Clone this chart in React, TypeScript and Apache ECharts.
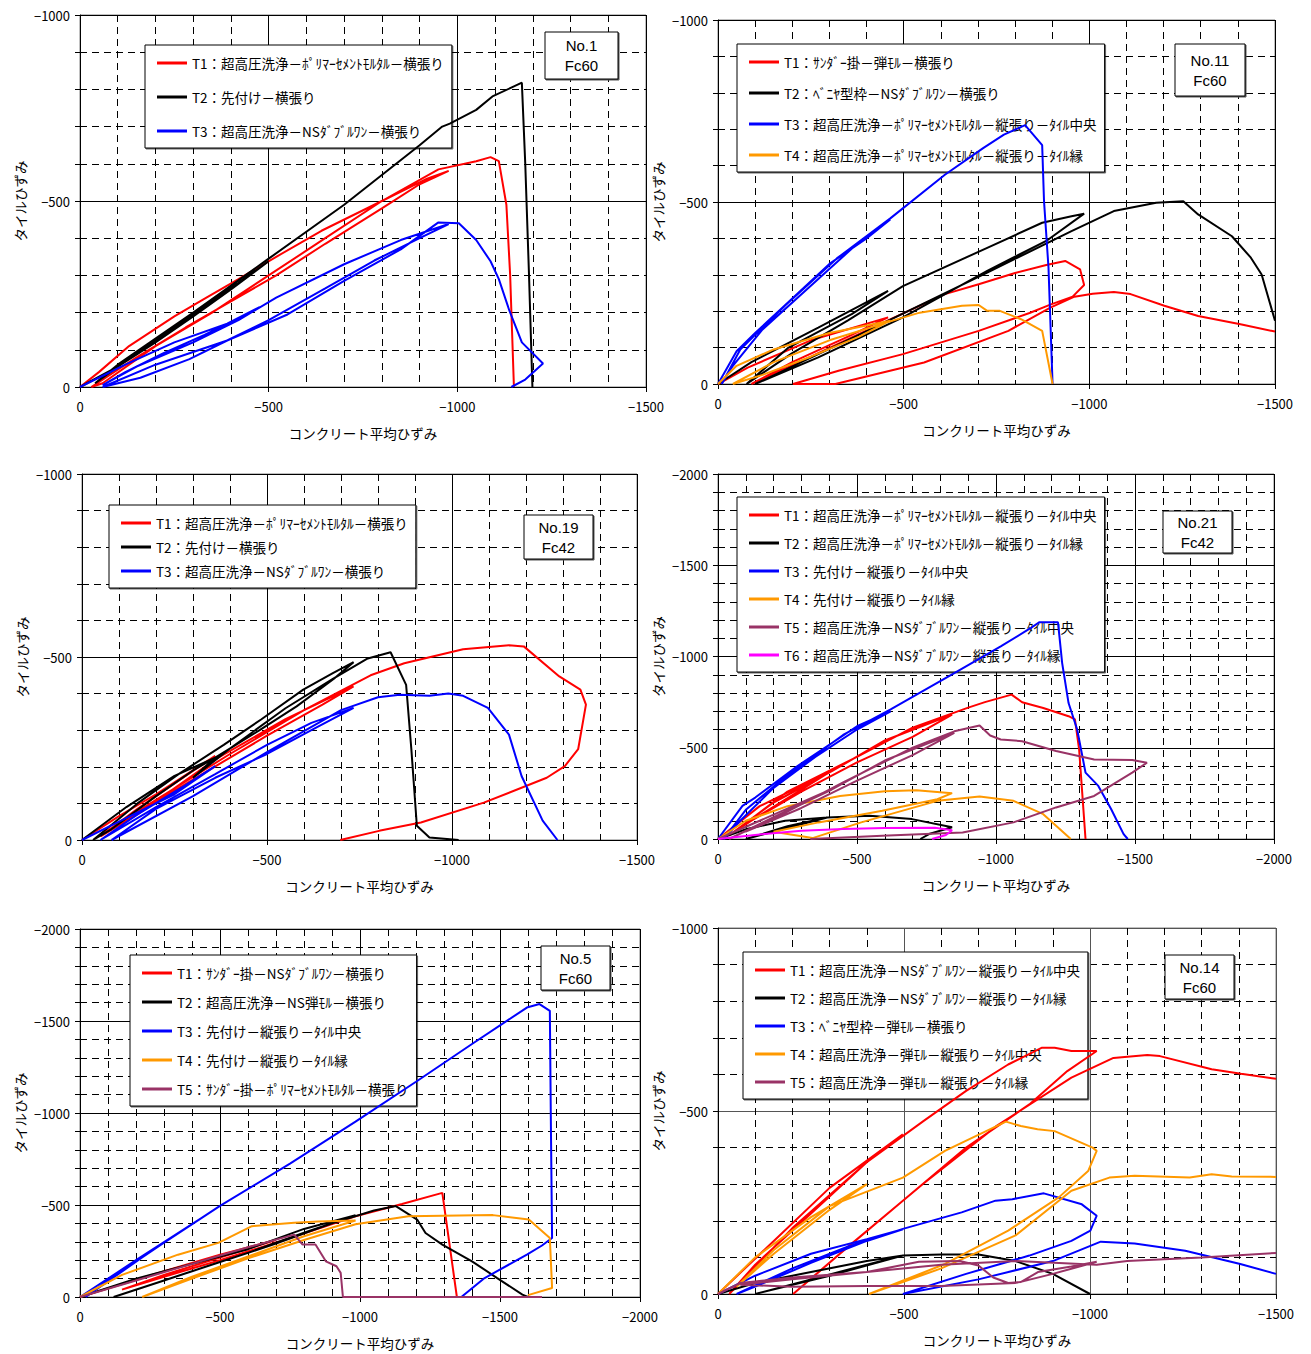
import React, { useEffect, useRef } from "react";
import * as echarts from "echarts";

type Pt = [number, number];

// ---------- Tick labels / axis names ----------
const X_NAME = "コンクリート平均ひずみ";
const Y_NAME = "タイルひずみ";

// ---------- No.1 Fc60 ----------
const P1_NAMES = [
  "T1：超高圧洗浄－ﾎﾟﾘﾏｰｾﾒﾝﾄﾓﾙﾀﾙ－横張り",
  "T2：先付け－横張り",
  "T3：超高圧洗浄－NSﾀﾞﾌﾞﾙﾜﾝ－横張り",
];
const P1_T1: Pt[] = [[0,0],[-50,-40],[-130,-110],[-250,-190],[-335,-240],[-420,-290],[-520,-350],[-640,-420],[-800,-500],[-920,-560],[-977,-581],[-900,-545],[-800,-480],[-650,-385],[-520,-300],[-400,-230],[-280,-160],[-150,-80],[-60,-20],[-30,0],[-60,-10],[-200,-110],[-350,-200],[-500,-300],[-650,-400],[-800,-500],[-950,-585],[-1050,-607],[-1088,-618],[-1110,-607],[-1130,-490],[-1140,-300],[-1145,-150],[-1150,0]];
const P1_T2: Pt[] = [[0,0],[-100,-55],[-200,-120],[-300,-190],[-400,-262],[-500,-338],[-420,-280],[-300,-195],[-150,-90],[-40,-10],[-100,-60],[-300,-200],[-500,-345],[-700,-490],[-900,-650],[-960,-700],[-980,-708],[-1050,-745],[-1093,-781],[-1150,-808],[-1171,-818],[-1180,-600],[-1190,-300],[-1199,0]];
const P1_T3: Pt[] = [[0,0],[-120,-60],[-250,-120],[-390,-170],[-476,-215],[-420,-185],[-330,-140],[-220,-90],[-120,-40],[-60,-5],[-150,-55],[-300,-120],[-420,-180],[-520,-240],[-700,-330],[-850,-395],[-977,-438],[-900,-400],[-780,-340],[-650,-265],[-500,-180],[-390,-125],[-290,-75],[-160,-25],[-60,0],[-200,-60],[-390,-125],[-550,-195],[-700,-285],[-850,-370],[-949,-442],[-1004,-440],[-1050,-395],[-1088,-338],[-1110,-290],[-1138,-205],[-1171,-120],[-1227,-63],[-1180,-20],[-1143,0]];

// ---------- No.11 Fc60 ----------
const P2_NAMES = [
  "T1：ｻﾝﾀﾞｰ掛－弾ﾓﾙ－横張り",
  "T2：ﾍﾞﾆﾔ型枠－NSﾀﾞﾌﾞﾙﾜﾝ－横張り",
  "T3：超高圧洗浄－ﾎﾟﾘﾏｰｾﾒﾝﾄﾓﾙﾀﾙ－縦張り－ﾀｲﾙ中央",
  "T4：超高圧洗浄－ﾎﾟﾘﾏｰｾﾒﾝﾄﾓﾙﾀﾙ－縦張り－ﾀｲﾙ縁",
];
const P2_T1: Pt[] = [[0,0],[-80,-45],[-250,-120],[-458,-183],[-350,-130],[-200,-60],[-90,0],[-250,-75],[-458,-175],[-611,-247],[-702,-274],[-800,-305],[-884,-327],[-935,-338],[-975,-315],[-986,-272],[-955,-240],[-895,-218],[-839,-195],[-702,-146],[-498,-82],[-327,-37],[-202,0],[-316,0],[-555,-59],[-782,-146],[-895,-210],[-960,-240],[-1009,-248],[-1066,-253],[-1111,-247],[-1202,-215],[-1293,-187],[-1407,-164],[-1500,-144]];
const P2_T2: Pt[] = [[0,0],[-90,-60],[-270,-155],[-458,-256],[-360,-192],[-190,-100],[-77,0],[-200,-85],[-350,-175],[-498,-269],[-725,-374],[-873,-443],[-952,-461],[-986,-468],[-884,-393],[-725,-311],[-498,-183],[-270,-73],[-100,0],[-384,-137],[-725,-306],[-952,-420],[-1066,-475],[-1180,-498],[-1253,-502],[-1293,-466],[-1384,-406],[-1435,-347],[-1464,-301],[-1500,-174]];
const P2_T3: Pt[] = [[0,0],[-50,-90],[-100,-140],[-200,-235],[-300,-330],[-400,-400],[-464,-452],[-380,-390],[-250,-270],[-120,-150],[-40,-50],[-10,0],[-60,-95],[-180,-215],[-320,-345],[-464,-455],[-611,-575],[-714,-648],[-770,-685],[-827,-711],[-873,-656],[-878,-502],[-890,-320],[-901,0]];
const P2_T4: Pt[] = [[0,0],[-50,-50],[-150,-95],[-300,-140],[-464,-174],[-380,-130],[-250,-75],[-120,-25],[-40,0],[-150,-60],[-300,-120],[-464,-172],[-543,-196],[-657,-215],[-702,-217],[-725,-201],[-759,-201],[-816,-178],[-873,-146],[-901,0]];

// ---------- No.19 Fc42 ----------
const P3_NAMES = P1_NAMES;
const P3_T1: Pt[] = [[0,0],[-100,-65],[-200,-125],[-360,-230],[-280,-175],[-150,-85],[-50,-10],[-150,-70],[-360,-220],[-550,-330],[-734,-420],[-650,-370],[-500,-285],[-350,-195],[-200,-105],[-60,-20],[-200,-110],[-400,-235],[-600,-355],[-780,-450],[-871,-483],[-1030,-521],[-1154,-532],[-1194,-529],[-1290,-447],[-1347,-411],[-1362,-370],[-1341,-248],[-1305,-202],[-1256,-170],[-1086,-102],[-916,-48],[-803,-25],[-698,0]];
const P3_T2: Pt[] = [[0,0],[-120,-90],[-250,-175],[-360,-225],[-300,-190],[-200,-120],[-80,-30],[-30,0],[-150,-100],[-258,-178],[-383,-260],[-485,-330],[-598,-411],[-678,-456],[-734,-486],[-680,-440],[-580,-365],[-480,-300],[-360,-225],[-300,-170],[-400,-250],[-550,-360],[-678,-440],[-770,-495],[-834,-513],[-876,-424],[-890,-250],[-905,-39],[-939,-7],[-1018,0]];
const P3_T3: Pt[] = [[0,0],[-100,-50],[-250,-125],[-360,-202],[-280,-150],[-150,-70],[-50,0],[-200,-90],[-360,-180],[-500,-260],[-620,-320],[-734,-361],[-620,-300],[-500,-235],[-360,-170],[-200,-85],[-80,0],[-300,-120],[-500,-240],[-700,-355],[-800,-390],[-859,-397],[-939,-394],[-990,-400],[-1030,-394],[-1097,-361],[-1154,-288],[-1188,-175],[-1245,-53],[-1285,0]];

// ---------- No.21 Fc42 ----------
const P4_NAMES = [
  "T1：超高圧洗浄－ﾎﾟﾘﾏｰｾﾒﾝﾄﾓﾙﾀﾙ－縦張り－ﾀｲﾙ中央",
  "T2：超高圧洗浄－ﾎﾟﾘﾏｰｾﾒﾝﾄﾓﾙﾀﾙ－縦張り－ﾀｲﾙ縁",
  "T3：先付け－縦張り－ﾀｲﾙ中央",
  "T4：先付け－縦張り－ﾀｲﾙ縁",
  "T5：超高圧洗浄－NSﾀﾞﾌﾞﾙﾜﾝ－縦張り－ﾀｲﾙ中央",
  "T6：超高圧洗浄－NSﾀﾞﾌﾞﾙﾜﾝ－縦張り－ﾀｲﾙ縁",
];
const P4_T1: Pt[] = [[0,0],[-150,-180],[-408,-373],[-300,-270],[-150,-130],[-40,-20],[-200,-200],[-408,-370],[-600,-540],[-842,-682],[-700,-560],[-500,-420],[-300,-260],[-120,-100],[-50,-30],[-250,-260],[-500,-450],[-700,-610],[-900,-720],[-960,-750],[-1056,-791],[-1094,-749],[-1170,-718],[-1261,-673],[-1284,-655],[-1299,-491],[-1322,0]];
const P4_T2: Pt[] = [[0,0],[-104,-55],[-241,-100],[-393,-118],[-300,-80],[-150,-20],[-100,0],[-250,-70],[-393,-118],[-545,-127],[-698,-109],[-842,-64],[-759,-27],[-728,0]];
const P4_T3: Pt[] = [[0,0],[-88,-182],[-134,-227],[-286,-400],[-500,-618],[-621,-700],[-500,-600],[-350,-450],[-200,-280],[-80,-100],[-20,0],[-100,-160],[-250,-350],[-450,-570],[-621,-710],[-850,-909],[-1017,-1055],[-1124,-1155],[-1155,-1187],[-1223,-1187],[-1238,-964],[-1261,-745],[-1292,-600],[-1322,-364],[-1368,-291],[-1414,-164],[-1459,-27],[-1474,0]];
const P4_T4: Pt[] = [[0,0],[-100,-100],[-250,-180],[-439,-236],[-600,-262],[-713,-267],[-842,-251],[-789,-218],[-591,-155],[-362,-91],[-200,-40],[-340,-5],[-515,-91],[-789,-209],[-941,-233],[-1063,-209],[-1170,-136],[-1269,0]];
const P4_T5: Pt[] = [[0,0],[-150,-100],[-408,-273],[-300,-190],[-150,-80],[-40,0],[-200,-120],[-408,-270],[-600,-430],[-850,-582],[-700,-460],[-500,-320],[-300,-170],[-100,-40],[-200,-110],[-450,-310],[-700,-500],[-850,-590],[-941,-622],[-979,-567],[-1017,-545],[-1094,-536],[-1216,-482],[-1353,-436],[-1490,-433],[-1543,-418],[-1490,-364],[-1353,-236],[-1216,-173],[-1063,-91],[-880,-36],[-591,-18],[-332,0]];
const P4_T6: Pt[] = [[0,0],[-150,-25],[-300,-45],[-450,-55],[-600,-60],[-780,-62],[-842,-48],[-820,-22],[-770,0]];

// ---------- No.5 Fc60 ----------
const P5_NAMES = [
  "T1：ｻﾝﾀﾞｰ掛－NSﾀﾞﾌﾞﾙﾜﾝ－横張り",
  "T2：超高圧洗浄－NS弾ﾓﾙ－横張り",
  "T3：先付け－縦張り－ﾀｲﾙ中央",
  "T4：先付け－縦張り－ﾀｲﾙ縁",
  "T5：ｻﾝﾀﾞｰ掛－ﾎﾟﾘﾏｰｾﾒﾝﾄﾓﾙﾀﾙ－横張り",
];
const P5_T1: Pt[] = [[0,0],[-300,-140],[-500,-230],[-700,-310],[-500,-215],[-300,-120],[-150,-40],[-300,-110],[-500,-200],[-750,-320],[-984,-439],[-1150,-505],[-1294,-566],[-1346,0]];
const P5_T2: Pt[] = [[0,0],[-200,-100],[-400,-180],[-600,-260],[-800,-370],[-984,-445],[-800,-350],[-600,-240],[-400,-140],[-200,-40],[-120,0],[-300,-90],[-500,-190],[-700,-290],[-900,-400],[-1050,-470],[-1128,-494],[-1204,-421],[-1234,-348],[-1294,-285],[-1400,-194],[-1490,-103],[-1580,-13],[-1600,0]];
const P5_T3: Pt[] = [[0,0],[-200,-200],[-471,-466],[-300,-295],[-100,-90],[-20,0],[-250,-245],[-500,-495],[-750,-725],[-984,-953],[-1200,-1170],[-1400,-1375],[-1596,-1573],[-1641,-1592],[-1678,-1555],[-1682,-900],[-1686,-321],[-1650,-280],[-1596,-230],[-1445,-103],[-1362,0]];
const P5_T4: Pt[] = [[0,0],[-150,-120],[-350,-230],[-494,-294],[-614,-385],[-765,-403],[-850,-410],[-984,-416],[-800,-330],[-600,-220],[-400,-110],[-222,0],[-400,-100],[-600,-210],[-800,-310],[-984,-395],[-1173,-439],[-1475,-445],[-1603,-421],[-1678,-321],[-1686,-49],[-1600,-10]];
const P5_T5: Pt[] = [[0,0],[-200,-90],[-400,-180],[-600,-270],[-765,-339],[-795,-285],[-841,-285],[-878,-194],[-916,-167],[-931,-131],[-939,0],[-1650,0]];

// ---------- No.14 Fc60 ----------
const P6_NAMES = [
  "T1：超高圧洗浄－NSﾀﾞﾌﾞﾙﾜﾝ－縦張り－ﾀｲﾙ中央",
  "T2：超高圧洗浄－NSﾀﾞﾌﾞﾙﾜﾝ－縦張り－ﾀｲﾙ縁",
  "T3：ﾍﾞﾆﾔ型枠－弾ﾓﾙ－横張り",
  "T4：超高圧洗浄－弾ﾓﾙ－縦張り－ﾀｲﾙ中央",
  "T5：超高圧洗浄－弾ﾓﾙ－縦張り－ﾀｲﾙ縁",
];
const P6_T1: Pt[] = [[0,0],[-150,-145],[-300,-290],[-497,-436],[-400,-360],[-250,-220],[-100,-80],[-30,0],[-200,-180],[-400,-360],[-553,-473],[-667,-555],[-780,-627],[-871,-673],[-905,-673],[-950,-664],[-1018,-664],[-939,-609],[-837,-518],[-667,-400],[-497,-255],[-327,-109],[-202,0],[-350,-130],[-550,-300],[-750,-460],[-950,-591],[-1063,-645],[-1154,-653],[-1188,-650],[-1327,-614],[-1406,-602],[-1500,-588]];
const P6_T2: Pt[] = [[0,0],[-100,-30],[-250,-60],[-400,-90],[-497,-105],[-400,-80],[-250,-40],[-100,0],[-300,-50],[-497,-105],[-600,-108],[-700,-108],[-800,-90],[-900,-55],[-1000,0]];
const P6_T3: Pt[] = [[0,0],[-100,-50],[-250,-110],[-400,-150],[-497,-177],[-400,-145],[-250,-85],[-100,-20],[-50,0],[-200,-70],[-350,-130],[-497,-178],[-655,-223],[-746,-255],[-791,-259],[-876,-275],[-978,-245],[-1018,-214],[-1001,-173],[-950,-145],[-837,-105],[-667,-55],[-497,0],[-700,-40],[-900,-90],[-1029,-143],[-1120,-138],[-1256,-118],[-1404,-82],[-1500,-55]];
const P6_T4: Pt[] = [[0,0],[-100,-100],[-250,-210],[-400,-300],[-300,-230],[-150,-110],[-50,-20],[-150,-120],[-300,-240],[-497,-318],[-610,-391],[-774,-471],[-814,-459],[-859,-450],[-905,-445],[-1007,-400],[-1018,-391],[-995,-336],[-916,-264],[-780,-173],[-610,-82],[-406,0],[-600,-70],[-800,-160],[-950,-282],[-1052,-318],[-1120,-323],[-1268,-318],[-1327,-327],[-1381,-321],[-1500,-320]];
const P6_T5: Pt[] = [[0,0],[-60,-30],[-200,-45],[-400,-60],[-540,-88],[-650,-90],[-700,-78],[-740,-45],[-780,-30],[-815,-33],[-860,-60],[-950,-75],[-1018,-88],[-900,-55],[-800,-30],[-600,-22],[-400,-22],[-200,-20],[-60,-25],[-200,-40],[-400,-60],[-600,-80],[-800,-90],[-1018,-80],[-1100,-90],[-1200,-95],[-1300,-100],[-1500,-112]];

const RED = "#ff0000";
const BLACK = "#000000";
const BLUE = "#0000ff";
const ORANGE = "#ff9900";
const PURPLE = "#993366";
const MAGENTA = "#ff00ff";

const FONT = "'Noto Sans CJK JP', 'Noto Sans', sans-serif";
const BADGE_FONT = "'Liberation Sans', Arial, sans-serif";

interface Panel {
  grid: { left: number; top: number; width: number; height: number };
  xMax: number;
  yMax: number;
  names: string[];
  colors: string[];
  data: Pt[][];
  legend: { left: number; top: number; gap: number };
  badge: { x: number; y: number; w: number; h: number; lines: string[] };
  majorColor: string;
}

const PANELS: Panel[] = [
  {
    grid: { left: 80, top: 15, width: 566, height: 372 },
    xMax: 1500, yMax: 1000,
    names: P1_NAMES, colors: [RED, BLACK, BLUE], data: [P1_T1, P1_T2, P1_T3],
    legend: { left: 145, top: 45, gap: 18 },
    badge: { x: 545, y: 32, w: 73, h: 47, lines: ["No.1", "Fc60"] },
    majorColor: "#000",
  },
  {
    grid: { left: 718, top: 20, width: 557, height: 364 },
    xMax: 1500, yMax: 1000,
    names: P2_NAMES, colors: [RED, BLACK, BLUE, ORANGE], data: [P2_T1, P2_T2, P2_T3, P2_T4],
    legend: { left: 737, top: 44, gap: 15 },
    badge: { x: 1175, y: 44, w: 70, h: 52, lines: ["No.11", "Fc60"] },
    majorColor: "#000",
  },
  {
    grid: { left: 82, top: 474, width: 555, height: 366 },
    xMax: 1500, yMax: 1000,
    names: P3_NAMES, colors: [RED, BLACK, BLUE], data: [P3_T1, P3_T2, P3_T3],
    legend: { left: 109, top: 505, gap: 8 },
    badge: { x: 524, y: 515, w: 69, h: 44, lines: ["No.19", "Fc42"] },
    majorColor: "#000",
  },
  {
    grid: { left: 718, top: 474, width: 556, height: 365 },
    xMax: 2000, yMax: 2000,
    names: P4_NAMES, colors: [RED, BLACK, BLUE, ORANGE, PURPLE, MAGENTA],
    data: [P4_T1, P4_T2, P4_T3, P4_T4, P4_T5, P4_T6],
    legend: { left: 737, top: 497, gap: 12 },
    badge: { x: 1163, y: 511, w: 69, h: 42, lines: ["No.21", "Fc42"] },
    majorColor: "#000",
  },
  {
    grid: { left: 80, top: 929, width: 560, height: 368 },
    xMax: 2000, yMax: 2000,
    names: P5_NAMES, colors: [RED, BLACK, BLUE, ORANGE, PURPLE],
    data: [P5_T1, P5_T2, P5_T3, P5_T4, P5_T5],
    legend: { left: 130, top: 955, gap: 13 },
    badge: { x: 541, y: 946, w: 69, h: 44, lines: ["No.5", "Fc60"] },
    majorColor: "#000",
  },
  {
    grid: { left: 718, top: 928, width: 558, height: 366 },
    xMax: 1500, yMax: 1000,
    names: P6_NAMES, colors: [RED, BLACK, BLUE, ORANGE, PURPLE],
    data: [P6_T1, P6_T2, P6_T3, P6_T4, P6_T5],
    legend: { left: 743, top: 952, gap: 12 },
    badge: { x: 1165, y: 955, w: 69, h: 44, lines: ["No.14", "Fc60"] },
    majorColor: "#555",
  },
];

const fmt = (v: number) => (v < 0 ? "\u2212" + String(-v) : String(v));

function buildOption() {
  const grid: any[] = [];
  const xAxis: any[] = [];
  const yAxis: any[] = [];
  const series: any[] = [];
  const legend: any[] = [];
  const graphic: any[] = [];

  PANELS.forEach((p, i) => {
    grid.push({
      ...p.grid,
      show: true,
      borderColor: "#808080",
      borderWidth: 1,
      backgroundColor: "#fff",
      containLabel: false,
    });
    const common = {
      type: "value",
      gridIndex: i,
      inverse: true,
      interval: 500,
      splitLine: { show: true, lineStyle: { color: p.majorColor, width: 1 } },
      minorSplitLine: { show: true, lineStyle: { color: "#000", width: 1, type: [7, 5] } },
      axisLine: { show: true, onZero: false, lineStyle: { color: "#000", width: 1 } },
      axisTick: { show: true, inside: false, length: 5, lineStyle: { color: "#000" } },
      nameTextStyle: { fontFamily: FONT, fontSize: 13.5, color: "#000" },
    };
    xAxis.push({
      ...common,
      min: -p.xMax,
      max: 0,
      name: X_NAME,
      nameLocation: "middle",
      nameGap: 39,
      minorTick: { show: false, splitNumber: 5 },
      axisLabel: {
        margin: 13,
        fontFamily: FONT,
        fontSize: 13,
        color: "#000",
        formatter: fmt,
      },
    });
    yAxis.push({
      ...common,
      min: -p.yMax,
      max: 0,
      name: Y_NAME,
      nameLocation: "middle",
      nameGap: 53,
      minorTick: { show: true, splitNumber: 5, length: 5, lineStyle: { color: "#000" } },
      axisLabel: {
        margin: 10,
        fontFamily: FONT,
        fontSize: 13,
        color: "#000",
        formatter: fmt,
      },
    });
    p.names.forEach((name, k) => {
      series.push({
        type: "line",
        name,
        xAxisIndex: i,
        yAxisIndex: i,
        data: p.data[k],
        showSymbol: false,
        symbol: "none",
        smooth: false,
        clip: true,
        z: 5,
        color: p.colors[k],
        lineStyle: { color: p.colors[k], width: 2 },
      });
    });
    legend.push({
      show: true,
      data: p.names,
      orient: "vertical",
      left: p.legend.left,
      top: p.legend.top,
      itemGap: p.legend.gap,
      itemWidth: 30,
      itemHeight: 3,
      icon: "rect",
      padding: [10, 8, 9, 12],
      backgroundColor: "#fff",
      borderColor: "#000",
      borderWidth: 1,
      borderRadius: 0,
      selectedMode: false,
      z: 3,
      shadowColor: "rgba(0,0,0,0.6)",
      shadowOffsetX: 1,
      shadowOffsetY: 1,
      textStyle: { fontFamily: FONT, fontSize: 13.5, color: "#000", lineHeight: 16 },
    });
    const b = p.badge;
    graphic.push({
      type: "rect",
      shape: { x: b.x + 1, y: b.y + 1, width: b.w, height: b.h },
      style: { fill: "#555", stroke: "#555", lineWidth: 1 },
      z: 9,
    });
    graphic.push({
      type: "rect",
      shape: { x: b.x, y: b.y, width: b.w, height: b.h },
      style: { fill: "#fff", stroke: "#000", lineWidth: 1 },
      z: 10,
    });
    graphic.push({
      type: "text",
      x: b.x + b.w / 2,
      y: b.y + b.h / 2 - 10,
      style: {
        text: b.lines[0],
        fill: "#000",
        font: `15px ${BADGE_FONT}`,
        textAlign: "center",
        textVerticalAlign: "middle",
      },
      z: 11,
    });
    graphic.push({
      type: "text",
      x: b.x + b.w / 2,
      y: b.y + b.h / 2 + 10,
      style: {
        text: b.lines[1],
        fill: "#000",
        font: `15px ${BADGE_FONT}`,
        textAlign: "center",
        textVerticalAlign: "middle",
      },
      z: 11,
    });
  });

  return {
    animation: false,
    backgroundColor: "#fff",
    textStyle: { fontFamily: FONT },
    grid,
    xAxis,
    yAxis,
    legend,
    series,
    graphic,
  };
}

export default function App() {
  const ref = useRef<HTMLDivElement>(null);
  useEffect(() => {
    if (!ref.current) return;
    const chart = echarts.init(ref.current, undefined, { renderer: "svg" });
    chart.setOption(buildOption() as any);
    return () => chart.dispose();
  }, []);
  return (
    <div
      ref={ref}
      style={{ position: "absolute", left: 0, top: 0, width: 1311, height: 1354, background: "#fff" }}
    />
  );
}
